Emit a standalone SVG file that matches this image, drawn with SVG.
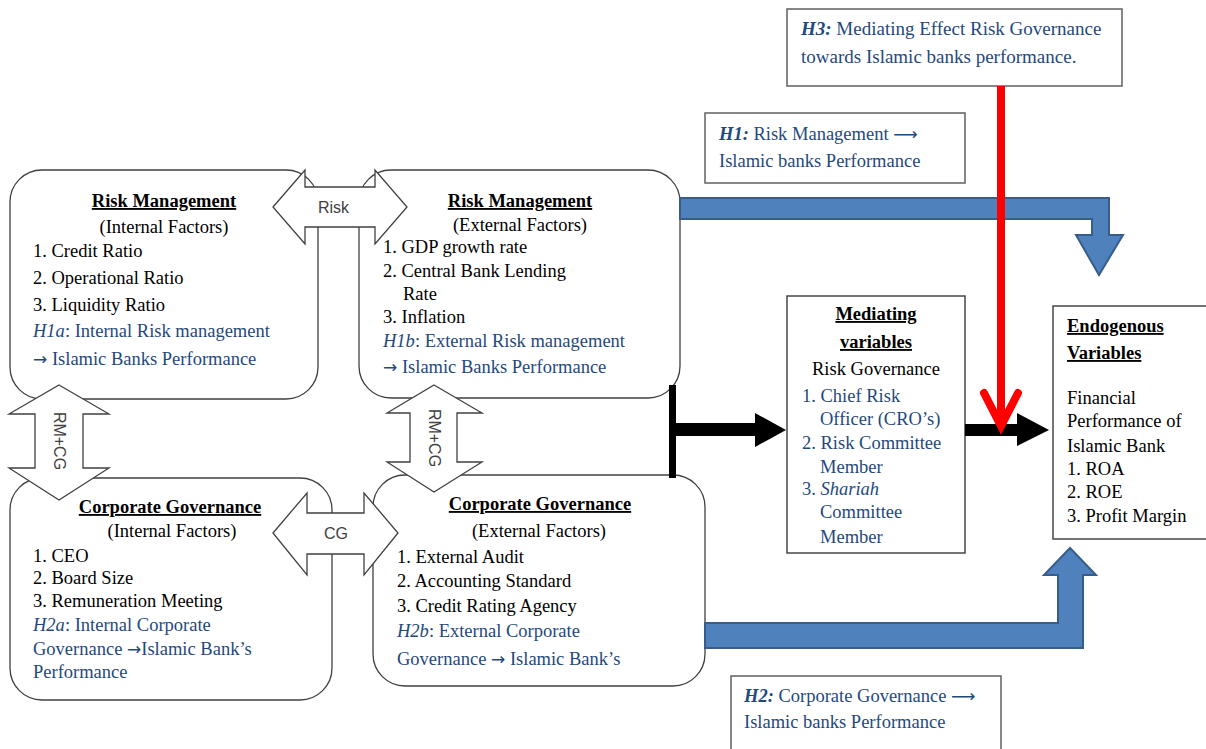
<svg xmlns="http://www.w3.org/2000/svg" width="1206" height="749" viewBox="0 0 1206 749">
<style>
text{font-family:"Liberation Serif","Times New Roman",serif;font-size:18.5px;fill:#000}
.bl{fill:#1F497D}
.hd{font-weight:bold;text-decoration:underline}
.hb{font-size:19px}
.ar{font-family:"DejaVu Sans",sans-serif;font-size:17px}
.s{font-family:"Liberation Sans",Arial,sans-serif;font-size:16px;fill:#404040}
.rb{fill:#fff;stroke:#404040;stroke-width:1.3}
.sq{fill:#fff;stroke:#3a3a3a;stroke-width:1.4}
.hq{fill:#fff;stroke:#6a6a6a;stroke-width:1.6}
.da{fill:#fff;stroke:#404040;stroke-width:1.3;stroke-linejoin:miter}
.blue{fill:#4F81BD;stroke:#385D8A;stroke-width:2}
.blk{fill:#000}
</style>
<rect width="1206" height="749" fill="#fff"/>

<g id="rm-internal">
<rect class="rb" x="10" y="170" width="308" height="229" rx="32"/>
<text x="164" y="207" text-anchor="middle" class="hd">Risk Management</text>
<text x="164" y="233" text-anchor="middle">(Internal Factors)</text>
<text x="33" y="257">1. Credit Ratio</text>
<text x="33" y="284">2. Operational Ratio</text>
<text x="33" y="311">3. Liquidity Ratio</text>
<text x="33" y="337" class="bl"><tspan font-style="italic">H1a</tspan>: Internal Risk management</text>
<text x="33" y="365" class="bl"><tspan class="ar">→</tspan> Islamic Banks Performance</text>
</g>

<g id="rm-external">
<rect class="rb" x="359" y="170" width="321" height="228" rx="32"/>
<text x="520" y="207" text-anchor="middle" class="hd">Risk Management</text>
<text x="520" y="231" text-anchor="middle">(External Factors)</text>
<text x="383" y="253">1. GDP growth rate</text>
<text x="383" y="277">2. Central Bank Lending</text>
<text x="403" y="300">Rate</text>
<text x="383" y="323">3. Inflation</text>
<text x="383" y="347" class="bl"><tspan font-style="italic">H1b</tspan>: External Risk management</text>
<text x="383" y="373" class="bl"><tspan class="ar">→</tspan> Islamic Banks Performance</text>
</g>

<g id="cg-internal">
<rect class="rb" x="10" y="478" width="322" height="222" rx="32"/>
<text x="170" y="513" text-anchor="middle" class="hd">Corporate Governance</text>
<text x="172" y="537" text-anchor="middle">(Internal Factors)</text>
<text x="33" y="562">1. CEO</text>
<text x="33" y="584">2. Board Size</text>
<text x="33" y="607">3. Remuneration Meeting</text>
<text x="33" y="631" class="bl"><tspan font-style="italic">H2a</tspan>: Internal Corporate</text>
<text x="33" y="655" class="bl">Governance <tspan class="ar">→</tspan>Islamic Bank’s</text>
<text x="33" y="678" class="bl">Performance</text>
</g>

<g id="cg-external">
<rect class="rb" x="373" y="475" width="332" height="211" rx="32"/>
<text x="540" y="510" text-anchor="middle" class="hd">Corporate Governance</text>
<text x="539" y="537" text-anchor="middle">(External Factors)</text>
<text x="397" y="563">1. External Audit</text>
<text x="397" y="587">2. Accounting Standard</text>
<text x="397" y="612">3. Credit Rating Agency</text>
<text x="397" y="637" class="bl"><tspan font-style="italic">H2b</tspan>: External Corporate</text>
<text x="397" y="665" class="bl">Governance <tspan class="ar">→</tspan> Islamic Bank’s</text>
</g>

<g id="mediating">
<rect class="sq" x="787" y="296" width="178" height="257"/>
<text x="876" y="320" text-anchor="middle" class="hd">Mediating</text>
<text x="876" y="348" text-anchor="middle" class="hd">variables</text>
<text x="876" y="375" text-anchor="middle">Risk Governance</text>
<text x="802" y="402" class="bl">1. Chief Risk</text>
<text x="820" y="425" class="bl">Officer (CRO’s)</text>
<text x="802" y="449" class="bl">2. Risk Committee</text>
<text x="820" y="473" class="bl">Member</text>
<text x="802" y="495" class="bl">3. <tspan font-style="italic">Shariah</tspan></text>
<text x="820" y="518" class="bl">Committee</text>
<text x="820" y="543" class="bl">Member</text>
</g>

<g id="endogenous">
<rect class="sq" x="1053" y="306" width="165" height="233"/>
<text x="1067" y="332" class="hd">Endogenous</text>
<text x="1067" y="359" class="hd">Variables</text>
<text x="1067" y="404">Financial</text>
<text x="1067" y="427">Performance of</text>
<text x="1067" y="452">Islamic Bank</text>
<text x="1067" y="475">1. ROA</text>
<text x="1067" y="498">2. ROE</text>
<text x="1067" y="522">3. Profit Margin</text>
</g>

<g id="h3">
<rect class="hq" x="787" y="9" width="335" height="77"/>
<text x="801" y="35" class="bl hb"><tspan font-weight="bold" font-style="italic">H3:</tspan> Mediating Effect Risk Governance</text>
<text x="801" y="63" class="bl hb">towards Islamic banks performance.</text>
</g>

<g id="h1">
<rect class="hq" x="705" y="113" width="260" height="70"/>
<text x="719" y="140" class="bl"><tspan font-weight="bold" font-style="italic">H1:</tspan> Risk Management <tspan class="ar">⟶</tspan></text>
<text x="719" y="167" class="bl">Islamic banks Performance</text>
</g>

<g id="h2">
<rect class="hq" x="731" y="676" width="270" height="90"/>
<text x="744" y="702" class="bl"><tspan font-weight="bold" font-style="italic">H2:</tspan> Corporate Governance <tspan class="ar">⟶</tspan></text>
<text x="744" y="728" class="bl">Islamic banks Performance</text>
</g>

<g id="connectors">
<polygon class="da" points="273,207 305,170 305,187 375,187 375,170 407,207 375,244 375,227 305,227 305,244"/>
<text x="318" y="213" class="s">Risk</text>
<polygon class="da" points="273,533 307,493 307,513 364,513 364,493 398,533 364,575 364,554 307,554 307,575"/>
<text x="336" y="539" class="s" text-anchor="middle">CG</text>
<polygon class="da" points="59,385 109,414 83,414 83,468 109,468 59,500 9,468 35,468 35,414 9,414"/>
<text x="59" y="441" class="s" text-anchor="middle" dominant-baseline="central" transform="rotate(90 59 441)">RM+CG</text>
<polygon class="da" points="434,385 482,413 457,413 457,462 482,462 434,492 387,462 410,462 410,413 387,413"/>
<text x="434" y="438" class="s" text-anchor="middle" dominant-baseline="central" transform="rotate(90 434 438)">RM+CG</text>
<polygon class="blue" points="680,198 1109,198 1109,235 1123,235 1099,275 1076,235 1092,235 1092,219 680,219"/>
<polygon class="blue" points="705,623 1058,623 1058,575 1044,575 1070,548 1096,575 1083,575 1083,648 705,648"/>
<rect class="blk" x="669" y="385" width="7" height="93"/>
<polygon class="blk" points="676,423 755,423 755,413 786,430 755,447 755,436 676,436"/>
<polygon class="blk" points="965,424 1017,424 1017,413 1049,430 1017,446 1017,436 965,436"/>
<line x1="1001" y1="86" x2="1001" y2="420" stroke="#FF0000" stroke-width="8"/>
<polyline points="984,393 1001,426 1018,393" fill="none" stroke="#FF0000" stroke-width="8" stroke-linecap="round" stroke-linejoin="miter"/>
</g>
</svg>
